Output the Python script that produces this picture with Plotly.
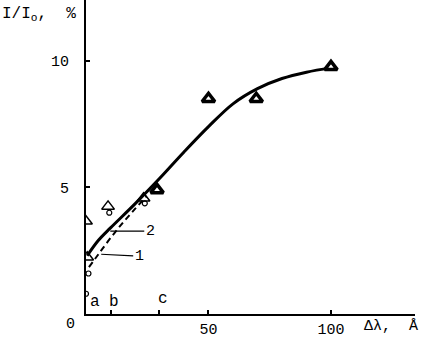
import plotly.graph_objects as go

# Solid curve (2)
curve2_x = [0.5, 5, 10, 20, 30, 40, 50, 60, 70, 80, 90, 100]
curve2_y = [2.3, 2.9, 3.4, 4.35, 5.35, 6.4, 7.4, 8.3, 8.9, 9.3, 9.55, 9.72]
# Dashed curve (1)
curve1_x = [1.2, 5, 10, 15, 20, 24.7]
curve1_y = [1.85, 2.35, 3.0, 3.6, 4.15, 4.65]
# Filled triangles
filled_x = [29, 50, 69.5, 100]
filled_y = [4.9, 8.5, 8.5, 9.76]
# Open triangles
open_x = [0, 0.5, 9, 23.5]
open_y = [3.66, 2.24, 4.25, 4.57]
# Small open circles
circ_x = [0, 1, 9.5, 24]
circ_y = [0.8, 1.6, 4.0, 4.37]

x_tickvals = [10, 30, 50, 100]
x_ticktext = ["", "", "50", "100"]
y_tickvals = [5, 10]
y_ticktext = ["5", "10"]

FONT = "Liberation Mono"

fig = go.Figure()
fig.add_trace(go.Scatter(x=curve2_x, y=curve2_y, mode="lines",
                         line=dict(color="black", width=3, shape="spline")))
fig.add_trace(go.Scatter(x=curve1_x, y=curve1_y, mode="lines",
                         line=dict(color="black", width=2, dash="6px,4px", shape="spline")))
fig.add_trace(go.Scatter(x=filled_x, y=filled_y, mode="markers",
                         marker=dict(symbol="triangle-up", size=11, color="white",
                                     line=dict(color="black", width=3.5))))
fig.add_trace(go.Scatter(x=open_x, y=open_y, mode="markers",
                         marker=dict(symbol="triangle-up-open", size=11, color="black",
                                     line=dict(color="black", width=1.5))))
fig.add_trace(go.Scatter(x=circ_x, y=circ_y, mode="markers",
                         marker=dict(symbol="circle-open", size=5, color="black",
                                     line=dict(color="black", width=1.2))))

tf = dict(size=15, family=FONT, color="black")
annotations = [
    dict(x=9.9, y=3.27, text="2", showarrow=True, arrowhead=0, arrowwidth=1.2,
         arrowcolor="black", ax=40, ay=0, font=tf),
    dict(x=6.2, y=2.36, text="1", showarrow=True, arrowhead=0, arrowwidth=1.2,
         arrowcolor="black", ax=38, ay=2, font=tf),
    dict(x=3.6, y=0.47, text="a", showarrow=False, font=dict(size=16, family=FONT, color="black")),
    dict(x=11.5, y=0.47, text="b", showarrow=False, font=dict(size=16, family=FONT, color="black")),
    dict(x=31.3, y=0.6, text="c", showarrow=False, font=dict(size=16, family=FONT, color="black")),
    dict(xref="paper", yref="paper", x=-0.046, y=-0.035, xanchor="center", yanchor="middle",
         text="0", showarrow=False, font=tf),
    dict(xref="paper", yref="paper", x=-86/329, y=(314 - 15)/314, xanchor="left", yanchor="middle",
         text="I/I<sub>o</sub>,&nbsp;&nbsp;%", showarrow=False,
         font=dict(size=16, family=FONT, color="black")),
    dict(xref="paper", yref="paper", x=0.927, y=-0.041, xanchor="center", yanchor="middle",
         text="Δλ,&nbsp;&nbsp;Å", showarrow=False, font=tf),
]

fig.update_layout(
    width=421, height=339,
    margin=dict(l=86, r=6, t=0, b=25, autoexpand=False),
    paper_bgcolor="white", plot_bgcolor="white",
    showlegend=False,
    annotations=annotations,
    xaxis=dict(range=[0, 134.3], showgrid=False, zeroline=False, showline=True,
               linecolor="black", linewidth=2, ticks="inside", ticklen=4, tickwidth=1.5,
               tickcolor="black", tickvals=x_tickvals, ticktext=x_ticktext,
               tickfont=tf),
    yaxis=dict(range=[0, 12.4], showgrid=False, zeroline=False, showline=True,
               linecolor="black", linewidth=2, ticks="inside", ticklen=4, tickwidth=1.5,
               tickcolor="black", tickvals=y_tickvals, ticktext=y_ticktext,
               ticklabelstandoff=12, tickfont=tf),
)

fig.write_html("out.html", config={"displayModeBar": False},
               post_script="document.body.style.margin='0';")
